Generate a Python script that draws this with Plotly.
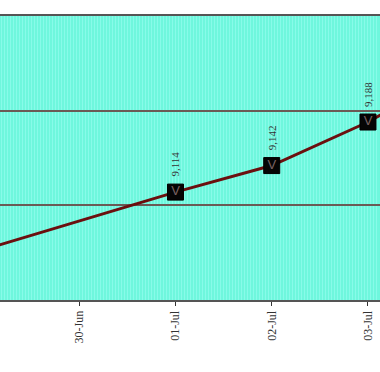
import plotly.graph_objects as go

# Data
dates = ["29-Jun", "30-Jun", "01-Jul", "02-Jul", "03-Jul", "04-Jul"]
values = [9053, None, 9114, 9142, 9188, 9246]
label_texts = ["9,053", "", "9,114", "9,142", "9,188", "9,246"]
y_ticks = [9000, 9100, 9200, 9300]

X_RANGE = [0.177, 4.125]

x_idx = list(range(len(dates)))
pts_x = [i for i, v in zip(x_idx, values) if v is not None]
pts_y = [v for v in values if v is not None]
pts_t = [t for t, v in zip(label_texts, values) if v is not None]
vis = [(x, y, t) for x, y, t in zip(pts_x, pts_y, pts_t) if X_RANGE[0] <= x <= X_RANGE[1]]

fig = go.Figure()
fig.add_trace(go.Scatter(
    x=x_idx, y=values, mode="lines", connectgaps=True,
    line=dict(color="#6b0f0f", width=3), hoverinfo="skip", showlegend=False))
fig.add_trace(go.Scatter(
    x=pts_x, y=pts_y, mode="markers",
    marker=dict(symbol="square", size=16, color="#050505",
                line=dict(color="#000000", width=1)),
    showlegend=False))
fig.add_trace(go.Scatter(
    x=[v[0] for v in vis], y=[v[1] for v in vis], mode="text", text=["V"] * len(vis),
    textfont=dict(family="Liberation Sans", size=13, color="#7a6262"),
    textposition="middle center", showlegend=False, hoverinfo="skip"))

for x, y, t in vis:
    fig.add_annotation(x=x, y=y, text=t, showarrow=False, textangle=-90,
                       yshift=28, font=dict(family="Liberation Serif", size=11, color="#333333"))

fig.update_layout(
    width=380, height=372,
    margin=dict(l=0, r=0, t=16, b=72),
    paper_bgcolor="white",
    plot_bgcolor="#6ff7dd",
    xaxis=dict(
        range=X_RANGE,
        tickmode="array", tickvals=x_idx, ticktext=dates,
        tickangle=-90,
        tickfont=dict(family="Liberation Serif", size=12, color="#333333"),
        ticks="outside", ticklen=4, tickcolor="#333333", tickwidth=1,
        showgrid=False, zeroline=False,
        showline=True, mirror=True, linecolor="#555555", linewidth=2,
        minor=dict(dtick=0.03125, showgrid=True, gridcolor="#88fbe9", gridwidth=1, ticks=""),
    ),
    yaxis=dict(
        range=[9000, 9300], tickvals=y_ticks, showticklabels=False,
        showgrid=True, gridcolor="#6b5a55", gridwidth=2,
        zeroline=False, showline=False,
    ),
)

fig.write_html("out.html", config={"displayModeBar": False},
               post_script="document.body.style.margin='0';document.body.style.overflow='hidden';")
